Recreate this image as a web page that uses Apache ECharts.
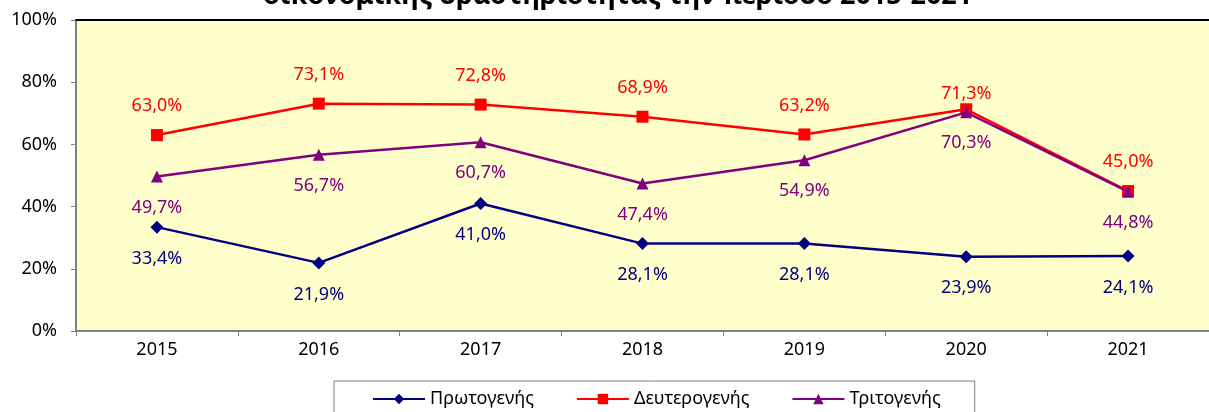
<!DOCTYPE html>
<html>
<head>
<meta charset="utf-8">
<script src="https://cdn.jsdelivr.net/npm/echarts@6/dist/echarts.min.js"></script>
<style>
  html, body { margin: 0; padding: 0; background: #fff; }
  #chart { width: 1209px; height: 412px; }
</style>
</head>
<body>
<div id="chart"></div>
<script>
// years on the x axis
const years = ['2015', '2016', '2017', '2018', '2019', '2020', '2021'];
// shares per sector (%)
const primary = [33.4, 21.9, 41.0, 28.1, 28.1, 23.9, 24.1];
const secondary = [63.0, 73.1, 72.8, 68.9, 63.2, 71.3, 45.0];
const tertiary = [49.7, 56.7, 60.7, 47.4, 54.9, 70.3, 44.8];
const seriesNames = ['Πρωτογενής', 'Δευτερογενής', 'Τριτογενής'];
const titleText = 'οικονομικής δραστηριότητας την περίοδο 2015-2021';

const FONT = 'Noto Sans';
const fmt = v => v.toFixed(1).replace('.', ',') + '%';

const chart = echarts.init(document.getElementById('chart'));

function makeSeries(name, values, color, symbol, size, pos, dist) {
    return {
        name: name,
        type: 'line',
        data: values.map(v => ({ value: v })),
        symbol: symbol,
        symbolSize: size,
        lineStyle: { color: color, width: 2.5 },
        itemStyle: { color: color },
        label: {
            show: true,
            position: pos,
            distance: dist,
            color: color,
            fontFamily: FONT,
            fontSize: 18,
            formatter: p => fmt(p.value)
        },
        emphasis: { disabled: true },
        z: 3
    };
}

const sPrimary = makeSeries(seriesNames[0], primary, '#000080', 'diamond', 13, 'bottom', 16);
const sSecondary = makeSeries(seriesNames[1], secondary, '#FF0000', 'rect', 12, 'top', 14);
const sTertiary = makeSeries(seriesNames[2], tertiary, '#800080', 'triangle', 12, 'bottom', 16);
// 2020 label of the secondary series sits closer to its point
sSecondary.data[5].label = { distance: 0 };
sTertiary.z = 4;

const option = {
    animation: false,
    textStyle: { fontFamily: FONT },
    title: {
        text: titleText,
        left: 258,
        top: -22,
        textStyle: { fontFamily: FONT, fontSize: 27, fontWeight: 'bold', color: '#000' }
    },
    grid: {
        left: 76,
        right: -15,
        top: 20,
        bottom: 81,
        show: true,
        backgroundColor: '#FFFFCC',
        borderWidth: 0
    },
    legend: {
        left: 334,
        top: 381,
        padding: [9, 34, 20, 38],
        itemGap: 42,
        itemWidth: 52,
        itemHeight: 13,
        borderColor: '#808080',
        borderWidth: 1,
        backgroundColor: '#fff',
        borderRadius: 0,
        textStyle: { fontFamily: FONT, fontSize: 18, color: '#000' },
        data: seriesNames
    },
    xAxis: [{
        type: 'category',
        data: years,
        boundaryGap: true,
        axisLine: { lineStyle: { color: '#808080', width: 2 } },
        axisTick: { show: true, length: 5, lineStyle: { color: '#808080' } },
        axisLabel: { color: '#000', fontFamily: FONT, fontSize: 18, margin: 10 }
    }, {
        type: 'category',
        data: years,
        position: 'top',
        axisLine: { lineStyle: { color: '#000', width: 2 } },
        axisTick: { show: false },
        axisLabel: { show: false }
    }],
    yAxis: {
        type: 'value',
        min: 0,
        max: 100,
        interval: 20,
        axisLine: { show: true, lineStyle: { color: '#808080', width: 2 } },
        axisTick: { show: true, length: 5, lineStyle: { color: '#808080' } },
        splitLine: { show: false },
        axisLabel: { color: '#000', fontFamily: FONT, fontSize: 18, margin: 19, formatter: '{value}%' }
    },
    series: [sPrimary, sSecondary, sTertiary]
};

chart.setOption(option);
</script>
</body>
</html>
